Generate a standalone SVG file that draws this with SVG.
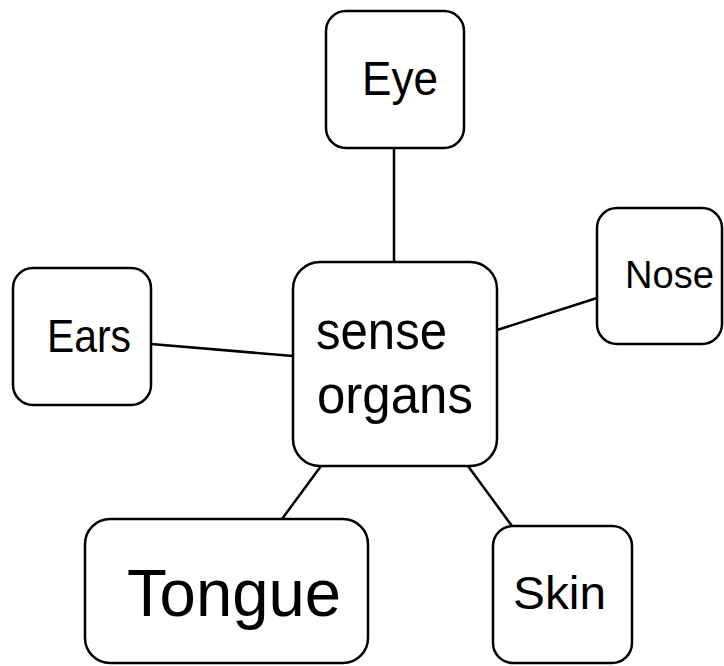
<svg xmlns="http://www.w3.org/2000/svg" width="724" height="666" viewBox="0 0 724 666">
<style>
.box{fill:#fff;stroke:#000;stroke-width:2.5}
.edge{stroke:#000;stroke-width:2.5;fill:none}
text{font-family:"Liberation Sans",Arial,sans-serif;fill:#000}
</style>
<rect width="724" height="666" fill="#fff"/>
<g id="connectors">
<line class="edge" x1="394" y1="148" x2="394" y2="262"/>
<line class="edge" x1="497" y1="330" x2="597" y2="298"/>
<line class="edge" x1="151" y1="344" x2="293" y2="356"/>
<line class="edge" x1="321" y1="466" x2="282" y2="519"/>
<line class="edge" x1="468" y1="466" x2="512" y2="526"/>
</g>
<g id="center">
<rect class="box" x="293" y="262" width="204" height="204" rx="27"/>
<text x="316" y="349" font-size="54" textLength="131" lengthAdjust="spacingAndGlyphs">sense</text>
<text x="317" y="413" font-size="54" textLength="156" lengthAdjust="spacingAndGlyphs">organs</text>
</g>
<g id="eye">
<rect class="box" x="326" y="11" width="138" height="137" rx="20"/>
<text x="362" y="95" font-size="49" textLength="76" lengthAdjust="spacingAndGlyphs">Eye</text>
</g>
<g id="nose">
<rect class="box" x="597" y="208" width="125" height="136" rx="20"/>
<text x="625" y="288" font-size="38" textLength="89" lengthAdjust="spacingAndGlyphs">Nose</text>
</g>
<g id="ears">
<rect class="box" x="13" y="268" width="138" height="137" rx="20"/>
<text x="47" y="352" font-size="46" textLength="84" lengthAdjust="spacingAndGlyphs">Ears</text>
</g>
<g id="tongue">
<rect class="box" x="85" y="519" width="283" height="144" rx="25"/>
<text x="127" y="616" font-size="66" textLength="214" lengthAdjust="spacingAndGlyphs">Tongue</text>
</g>
<g id="skin">
<rect class="box" x="493" y="526" width="139" height="137" rx="20"/>
<text x="513" y="609" font-size="46" textLength="93" lengthAdjust="spacingAndGlyphs">Skin</text>
</g>
</svg>
